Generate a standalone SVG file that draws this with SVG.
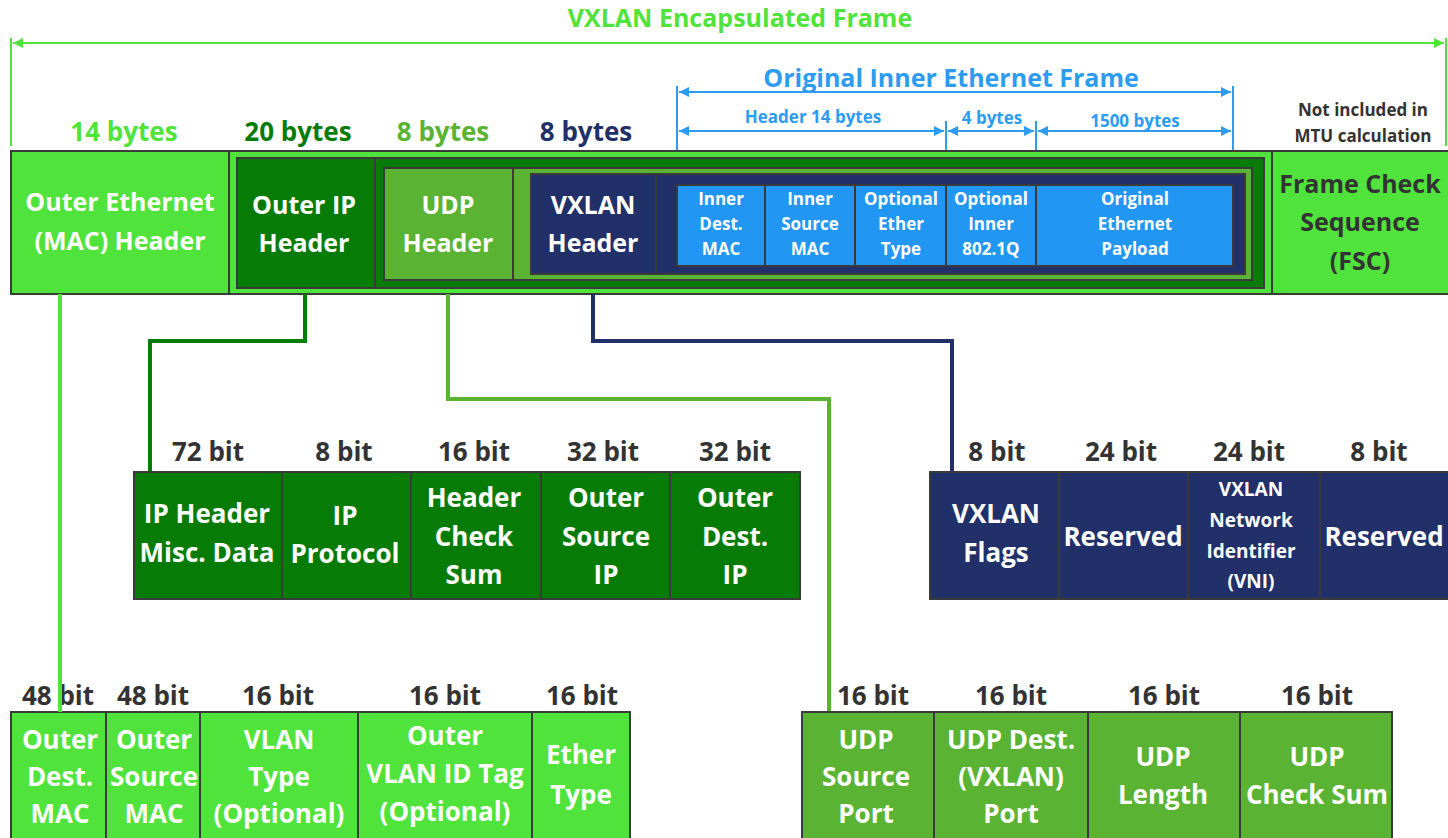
<svg xmlns="http://www.w3.org/2000/svg" width="1448" height="838" viewBox="0 0 1448 838">
<defs>
<style>
text{font-family:"Open Sans","Liberation Sans",sans-serif;font-weight:700;text-anchor:middle}
.w{fill:#ffffff}
.d{fill:#333333}
.cell{stroke:#3a3a3a;stroke-width:2}
.bg{fill:#50e33c}
.dg{fill:#067c06}
.mg{fill:#5ab332}
.nv{fill:#213068}
.bl{fill:#2196f3}
.t25{font-size:25px}
.t26{font-size:26px}
.t17{font-size:17px}
.conn{fill:none;stroke-width:4}
</style>
<marker id="ga" viewBox="0 0 10 10" refX="10" refY="5" markerWidth="5" markerHeight="5" orient="auto-start-reverse"><path d="M0,0 L10,5 L0,10 z" fill="#50e33c"/></marker>
<marker id="ba" viewBox="0 0 10 10" refX="10" refY="5" markerWidth="5" markerHeight="5" orient="auto-start-reverse"><path d="M0,0 L10,5 L0,10 z" fill="#2d9cf0"/></marker>
</defs>
<rect width="1448" height="838" fill="#ffffff"/>

<g id="dimensions">
<text x="740" y="27" font-size="25" fill="#50e33c">VXLAN Encapsulated Frame</text>
<line x1="11" y1="38" x2="11" y2="146" stroke="#50e33c" stroke-width="2"/>
<line x1="1446" y1="38" x2="1446" y2="146" stroke="#50e33c" stroke-width="2"/>
<line x1="13" y1="43" x2="1444" y2="43" stroke="#50e33c" stroke-width="2" marker-start="url(#ga)" marker-end="url(#ga)"/>
<text x="124" y="141" class="t26" fill="#50e33c">14 bytes</text>
<text x="298" y="141" class="t26" fill="#067c06">20 bytes</text>
<text x="443" y="141" class="t26" fill="#5ab332">8 bytes</text>
<text x="586" y="141" class="t26" fill="#213068">8 bytes</text>
<text x="951" y="87" font-size="25" fill="#2d9cf0">Original Inner Ethernet Frame</text>
<g stroke="#2d9cf0" stroke-width="2">
<line x1="677" y1="86" x2="677" y2="151"/>
<line x1="1233" y1="86" x2="1233" y2="151"/>
<line x1="946" y1="121" x2="946" y2="151"/>
<line x1="1036" y1="121" x2="1036" y2="151"/>
<line x1="679" y1="92" x2="1231" y2="92" marker-start="url(#ba)" marker-end="url(#ba)"/>
<line x1="679" y1="131" x2="944" y2="131" marker-start="url(#ba)" marker-end="url(#ba)"/>
<line x1="948" y1="131" x2="1034" y2="131" marker-start="url(#ba)" marker-end="url(#ba)"/>
<line x1="1038" y1="131" x2="1231" y2="131" marker-start="url(#ba)" marker-end="url(#ba)"/>
</g>
<text x="813" y="123" class="t17" fill="#2d9cf0">Header 14 bytes</text>
<text x="992" y="124" class="t17" fill="#2d9cf0">4 bytes</text>
<text x="1135" y="127" class="t17" fill="#2d9cf0">1500 bytes</text>
<text x="1363" y="116" class="t17 d">Not included in</text>
<text x="1363" y="142" class="t17 d">MTU calculation</text>
</g>

<g id="frame">
<rect x="11" y="151" width="1440" height="143" class="cell bg"/>
<line x1="229" y1="151" x2="229" y2="294" stroke="#3a3a3a" stroke-width="2"/>
<line x1="1272" y1="151" x2="1272" y2="294" stroke="#3a3a3a" stroke-width="2"/>
<rect x="237" y="158" width="1027" height="130" class="cell dg"/>
<line x1="375" y1="158" x2="375" y2="288" stroke="#3a3a3a" stroke-width="2"/>
<rect x="384" y="168" width="868" height="112" class="cell mg"/>
<line x1="513" y1="168" x2="513" y2="280" stroke="#3a3a3a" stroke-width="2"/>
<rect x="531" y="174" width="714" height="100" class="cell nv"/>
<line x1="656" y1="174" x2="656" y2="274" stroke="#3a3a3a" stroke-width="2"/>
<g id="outer-eth"><text x="120" y="211" class="t25 w">Outer Ethernet</text><text x="120" y="250" class="t25 w">(MAC) Header</text></g>
<g id="outer-ip"><text x="304" y="214" class="t25 w">Outer IP</text><text x="304" y="252" class="t25 w">Header</text></g>
<g id="udp"><text x="448" y="214" class="t25 w">UDP</text><text x="448" y="252" class="t25 w">Header</text></g>
<g id="vxlan"><text x="593" y="214" class="t25 w">VXLAN</text><text x="593" y="252" class="t25 w">Header</text></g>
<g id="fsc"><text x="1360" y="193" class="t25 d">Frame Check</text><text x="1360" y="231" class="t25 d">Sequence</text><text x="1360" y="270" class="t25 d">(FSC)</text></g>
<g id="inner-dmac"><rect x="677" y="185" width="88" height="81" class="cell bl"/><text x="721" y="205" class="t17 w">Inner</text><text x="721" y="230" class="t17 w">Dest.</text><text x="721" y="255" class="t17 w">MAC</text></g>
<g id="inner-smac"><rect x="765" y="185" width="90" height="81" class="cell bl"/><text x="810" y="205" class="t17 w">Inner</text><text x="810" y="230" class="t17 w">Source</text><text x="810" y="255" class="t17 w">MAC</text></g>
<g id="inner-etype"><rect x="855" y="185" width="91" height="81" class="cell bl"/><text x="901" y="205" class="t17 w">Optional</text><text x="901" y="230" class="t17 w">Ether</text><text x="901" y="255" class="t17 w">Type</text></g>
<g id="inner-8021q"><rect x="946" y="185" width="90" height="81" class="cell bl"/><text x="991" y="205" class="t17 w">Optional</text><text x="991" y="230" class="t17 w">Inner</text><text x="991" y="255" class="t17 w">802.1Q</text></g>
<g id="inner-payload"><rect x="1036" y="185" width="197" height="81" class="cell bl"/><text x="1135" y="205" class="t17 w">Original</text><text x="1135" y="230" class="t17 w">Ethernet</text><text x="1135" y="255" class="t17 w">Payload</text></g>
</g>

<g id="connectors">
<polyline points="60,294 60,712" class="conn" stroke="#50e33c"/>
<polyline points="305,294 305,341 150,341 150,473" class="conn" stroke="#067c06"/>
<polyline points="448,294 448,399 829,399 829,712" class="conn" stroke="#5ab332"/>
<polyline points="593,294 593,341 952,341 952,473" class="conn" stroke="#213068"/>
</g>

<g id="ip-fields">
<rect x="134" y="472" width="666" height="127" class="cell dg"/>
<g stroke="#3a3a3a" stroke-width="2"><line x1="282" y1="472" x2="282" y2="599"/><line x1="411" y1="472" x2="411" y2="599"/><line x1="541" y1="472" x2="541" y2="599"/><line x1="670" y1="472" x2="670" y2="599"/></g>
<text x="208" y="461" class="t26 d">72 bit</text><text x="344" y="461" class="t26 d">8 bit</text><text x="474" y="461" class="t26 d">16 bit</text><text x="603" y="461" class="t26 d">32 bit</text><text x="735" y="461" class="t26 d">32 bit</text>
<g id="ip-misc"><text x="207" y="523" class="t26 w">IP Header</text><text x="207" y="562" class="t26 w">Misc. Data</text></g>
<g id="ip-proto"><text x="345" y="525" class="t26 w">IP</text><text x="345" y="563" class="t26 w">Protocol</text></g>
<g id="ip-csum"><text x="474" y="507" class="t26 w">Header</text><text x="474" y="546" class="t26 w">Check</text><text x="474" y="584" class="t26 w">Sum</text></g>
<g id="ip-src"><text x="606" y="507" class="t26 w">Outer</text><text x="606" y="546" class="t26 w">Source</text><text x="606" y="584" class="t26 w">IP</text></g>
<g id="ip-dst"><text x="735" y="507" class="t26 w">Outer</text><text x="735" y="546" class="t26 w">Dest.</text><text x="735" y="584" class="t26 w">IP</text></g>
</g>

<g id="vxlan-fields">
<rect x="930" y="472" width="520" height="127" class="cell nv"/>
<g stroke="#3a3a3a" stroke-width="2"><line x1="1059" y1="472" x2="1059" y2="599"/><line x1="1188" y1="472" x2="1188" y2="599"/><line x1="1320" y1="472" x2="1320" y2="599"/></g>
<text x="997" y="461" class="t26 d">8 bit</text><text x="1121" y="461" class="t26 d">24 bit</text><text x="1249" y="461" class="t26 d">24 bit</text><text x="1379" y="461" class="t26 d">8 bit</text>
<g id="vx-flags"><text x="996" y="523" class="t26 w">VXLAN</text><text x="996" y="562" class="t26 w">Flags</text></g>
<g id="vx-res1"><text x="1123" y="546" class="t26 w">Reserved</text></g>
<g id="vx-vni"><text x="1251" y="496" font-size="19" class="w">VXLAN</text><text x="1251" y="527" font-size="19" class="w">Network</text><text x="1251" y="558" font-size="19" class="w">Identifier</text><text x="1251" y="588" font-size="19" class="w">(VNI)</text></g>
<g id="vx-res2"><text x="1384" y="546" class="t26 w">Reserved</text></g>
</g>

<g id="eth-fields">
<rect x="11" y="712" width="619" height="140" class="cell bg"/>
<g stroke="#3a3a3a" stroke-width="2"><line x1="106" y1="712" x2="106" y2="838"/><line x1="200" y1="712" x2="200" y2="838"/><line x1="358" y1="712" x2="358" y2="838"/><line x1="532" y1="712" x2="532" y2="838"/></g>
<text x="58" y="705" class="t26 d">48 bit</text><text x="153" y="705" class="t26 d">48 bit</text><text x="278" y="705" class="t26 d">16 bit</text><text x="445" y="705" class="t26 d">16 bit</text><text x="582" y="705" class="t26 d">16 bit</text>
<g id="eth-dmac"><text x="60" y="749" class="t26 w">Outer</text><text x="60" y="786" class="t26 w">Dest.</text><text x="60" y="823" class="t26 w">MAC</text></g>
<g id="eth-smac"><text x="154" y="749" class="t26 w">Outer</text><text x="154" y="786" class="t26 w">Source</text><text x="154" y="823" class="t26 w">MAC</text></g>
<g id="eth-vtype"><text x="279" y="749" class="t26 w">VLAN</text><text x="279" y="786" class="t26 w">Type</text><text x="279" y="823" class="t26 w">(Optional)</text></g>
<g id="eth-vtag"><text x="445" y="745" class="t26 w">Outer</text><text x="445" y="783" class="t26 w">VLAN ID Tag</text><text x="445" y="821" class="t26 w">(Optional)</text></g>
<g id="eth-type"><text x="581" y="764" class="t26 w">Ether</text><text x="581" y="804" class="t26 w">Type</text></g>
</g>
<line x1="60" y1="680" x2="60" y2="712" class="conn" stroke="#50e33c"/>

<g id="udp-fields">
<rect x="802" y="712" width="590" height="140" class="cell mg"/>
<g stroke="#3a3a3a" stroke-width="2"><line x1="934" y1="712" x2="934" y2="838"/><line x1="1088" y1="712" x2="1088" y2="838"/><line x1="1240" y1="712" x2="1240" y2="838"/></g>
<text x="873" y="705" class="t26 d">16 bit</text><text x="1011" y="705" class="t26 d">16 bit</text><text x="1164" y="705" class="t26 d">16 bit</text><text x="1317" y="705" class="t26 d">16 bit</text>
<g id="udp-sport"><text x="866" y="749" class="t26 w">UDP</text><text x="866" y="786" class="t26 w">Source</text><text x="866" y="823" class="t26 w">Port</text></g>
<g id="udp-dport"><text x="1011" y="749" class="t26 w">UDP Dest.</text><text x="1011" y="786" class="t26 w">(VXLAN)</text><text x="1011" y="823" class="t26 w">Port</text></g>
<g id="udp-len"><text x="1163" y="766" class="t26 w">UDP</text><text x="1163" y="804" class="t26 w">Length</text></g>
<g id="udp-csum"><text x="1317" y="766" class="t26 w">UDP</text><text x="1317" y="804" class="t26 w">Check Sum</text></g>
</g>
</svg>
